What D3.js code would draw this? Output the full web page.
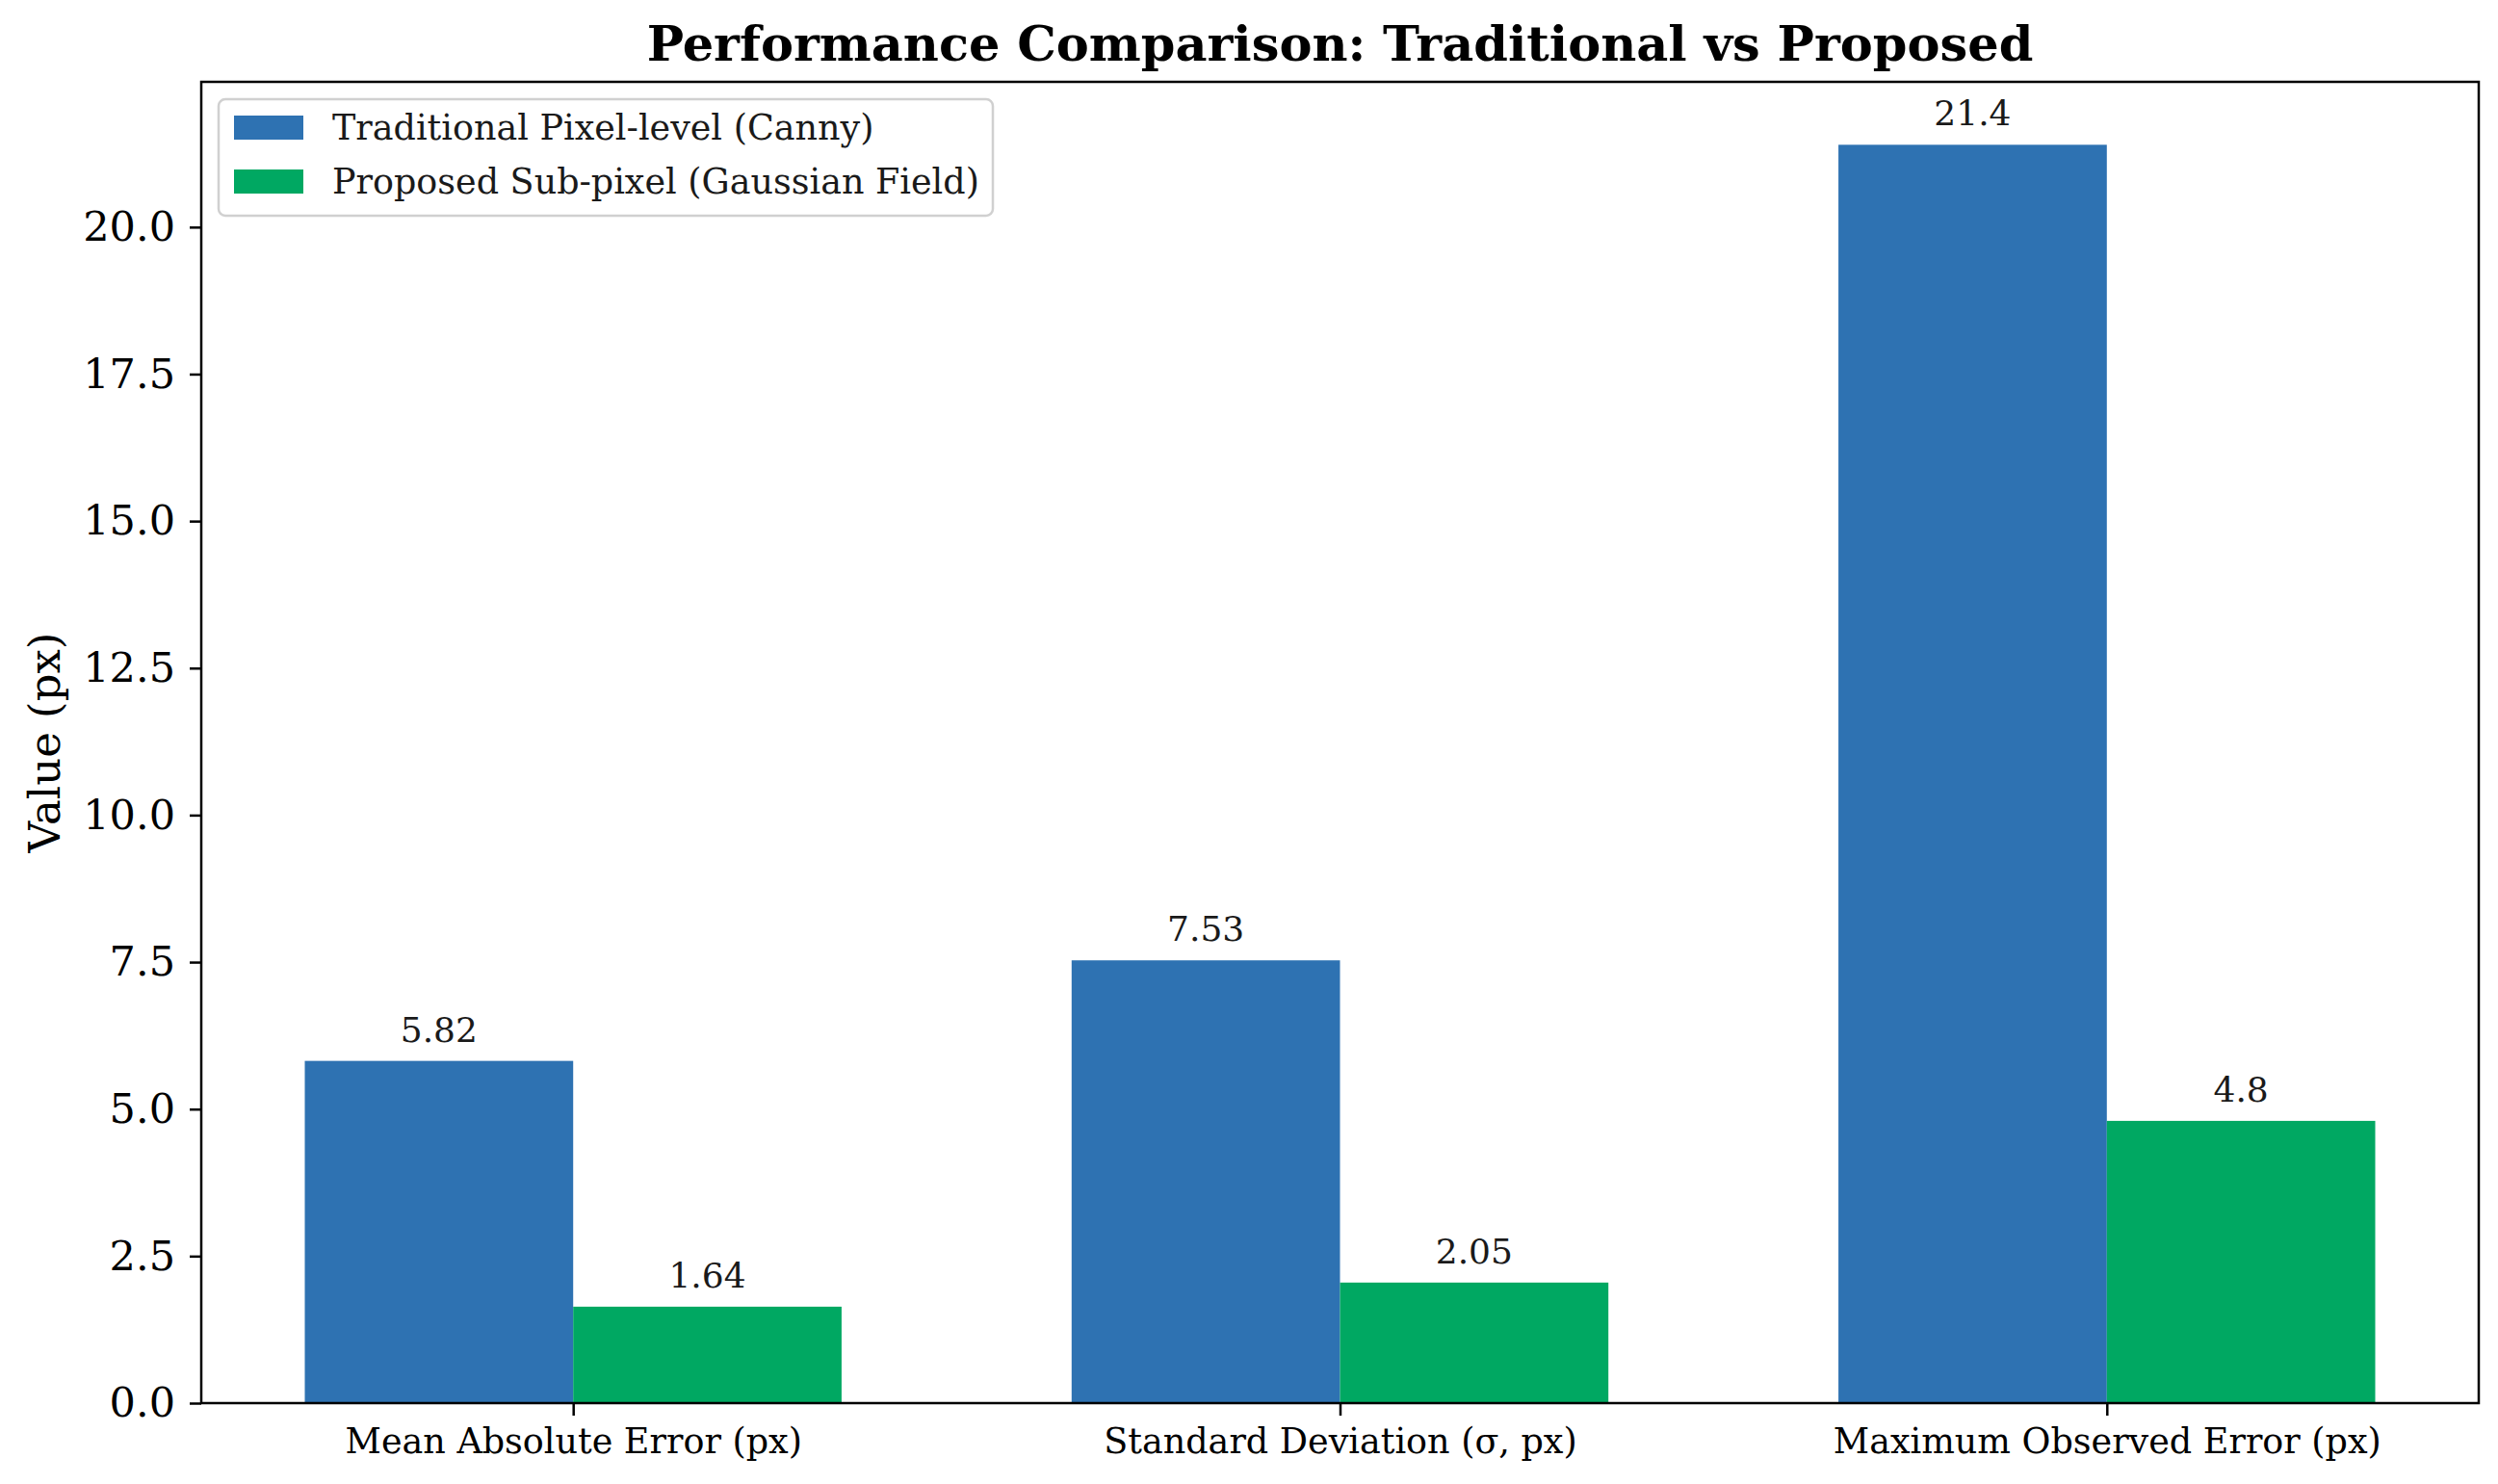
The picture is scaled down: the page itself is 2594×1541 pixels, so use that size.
<!DOCTYPE html>
<html>
<head>
<meta charset="utf-8">
<script src="https://cdn.jsdelivr.net/npm/d3@7"></script>
<style>
    body { margin: 0; background: #fff; }
    svg { display: block; font-family: 'DejaVu Serif', serif; }
</style>
</head>
<body>
<div class="chart-container"></div>
<script>
// Chart data
const categories = ['Mean Absolute Error (px)', 'Standard Deviation (σ, px)', 'Maximum Observed Error (px)'];
const seriesNames = ['Traditional Pixel-level (Canny)', 'Proposed Sub-pixel (Gaussian Field)'];
const traditionalValues = [5.82, 7.53, 21.4];
const proposedValues = [1.64, 2.05, 4.8];
const yTickValues = [0, 2.5, 5, 7.5, 10, 12.5, 15, 17.5, 20];
const seriesColors = ['#2E72B2', '#00A862'];

const svg_width = 2594;
const svg_height = 1541;
const chart_margin = { top: 85, right: 20, bottom: 84, left: 209 };
const chart_width = svg_width - chart_margin.left - chart_margin.right;
const chart_height = svg_height - chart_margin.top - chart_margin.bottom;
const barWidth = 0.35;

const svg = d3.select('.chart-container').append('svg')
    .attr('width', svg_width).attr('height', svg_height);
const g = svg.append('g')
    .attr('transform', `translate(${chart_margin.left}, ${chart_margin.top})`);

// scales (matplotlib style: 5% margins on x, top margin on y)
const xScale = d3.scaleLinear([-0.5 - 0.035 + 0.05, 2.5 + 0.035 - 0.05], [0, chart_width]);
const yScale = d3.scaleLinear([0, 21.4 * 1.05], [chart_height, 0]);

// build bar rows from arrays
const series = [traditionalValues, proposedValues];
const barData = [];
series.forEach((vals, s) => {
    vals.forEach((v, i) => {
        barData.push({ series: s, index: i, value: v, offset: s === 0 ? -barWidth / 2 : barWidth / 2 });
    });
});

// Draw bars
g.selectAll('.bar')
    .data(barData)
    .enter()
    .append('rect')
    .attr('class', 'bar')
    .attr('x', d => xScale(d.index + d.offset - barWidth / 2))
    .attr('y', d => yScale(d.value))
    .attr('width', d => xScale(barWidth) - xScale(0))
    .attr('height', d => yScale(0) - yScale(d.value))
    .attr('fill', d => seriesColors[d.series]);

// Bar value labels
g.selectAll('.bar-label')
    .data(barData)
    .enter()
    .append('text')
    .attr('class', 'bar-label')
    .attr('x', d => xScale(d.index + d.offset))
    .attr('y', d => yScale(d.value) - 20)
    .attr('text-anchor', 'middle')
    .style('font-size', '36px')
    .style('fill', '#1a1a1a')
    .text(d => String(d.value));

// Draw axis
const yAxis = d3.axisLeft(yScale).tickValues(yTickValues).tickFormat(d3.format('.1f'))
    .tickSizeInner(12).tickSizeOuter(0).tickPadding(15);
const yAxisDraw = g.append('g').attr('class', 'y axis').call(yAxis);
yAxisDraw.select('.domain').remove();
yAxisDraw.selectAll('line').attr('stroke', '#000').attr('stroke-width', 2.5);
yAxisDraw.selectAll('text').style('font-size', '43px').style('font-family', 'DejaVu Serif').attr('fill', '#000');

const xAxis = d3.axisBottom(xScale).tickValues([0, 1, 2]).tickFormat(i => categories[i])
    .tickSizeInner(13).tickSizeOuter(0).tickPadding(13);
const xAxisDraw = g.append('g').attr('class', 'x axis')
    .attr('transform', `translate(0, ${chart_height})`).call(xAxis);
xAxisDraw.select('.domain').remove();
xAxisDraw.selectAll('line').attr('stroke', '#000').attr('stroke-width', 2.5);
xAxisDraw.selectAll('text').style('font-size', '36.5px').style('font-family', 'DejaVu Serif').attr('fill', '#000');

// Frame
g.append('rect')
    .attr('x', 0).attr('y', 0)
    .attr('width', chart_width).attr('height', chart_height)
    .attr('fill', 'none').attr('stroke', '#000').attr('stroke-width', 2.5);

// Title
svg.append('text')
    .attr('x', chart_margin.left + chart_width / 2)
    .attr('y', 63)
    .attr('text-anchor', 'middle')
    .style('font-size', '51px')
    .style('font-weight', 'bold')
    .text('Performance Comparison: Traditional vs Proposed');

// Y label
svg.append('text')
    .attr('transform', `translate(62, ${chart_margin.top + chart_height / 2}) rotate(-90)`)
    .attr('text-anchor', 'middle')
    .style('font-size', '45px')
    .text('Value (px)');

// Legend
const legend = g.append('g').attr('class', 'legend').attr('transform', 'translate(18, 18)');
legend.append('rect')
    .attr('x', 0).attr('y', 0).attr('width', 804).attr('height', 121)
    .attr('rx', 7).attr('ry', 7)
    .attr('fill', '#fff').attr('fill-opacity', 0.8)
    .attr('stroke', '#d0d0d0').attr('stroke-width', 2.5);
const legendItems = legend.selectAll('.legend-item')
    .data(seriesNames)
    .enter()
    .append('g')
    .attr('class', 'legend-item')
    .attr('transform', (d, i) => `translate(16, ${17 + i * 56})`);
legendItems.append('rect')
    .attr('width', 72).attr('height', 25)
    .attr('fill', (d, i) => seriesColors[i]);
legendItems.append('text')
    .attr('x', 102).attr('y', 25)
    .style('font-size', '36.5px')
    .style('fill', '#1a1a1a')
    .text(d => d);
</script>
</body>
</html>
